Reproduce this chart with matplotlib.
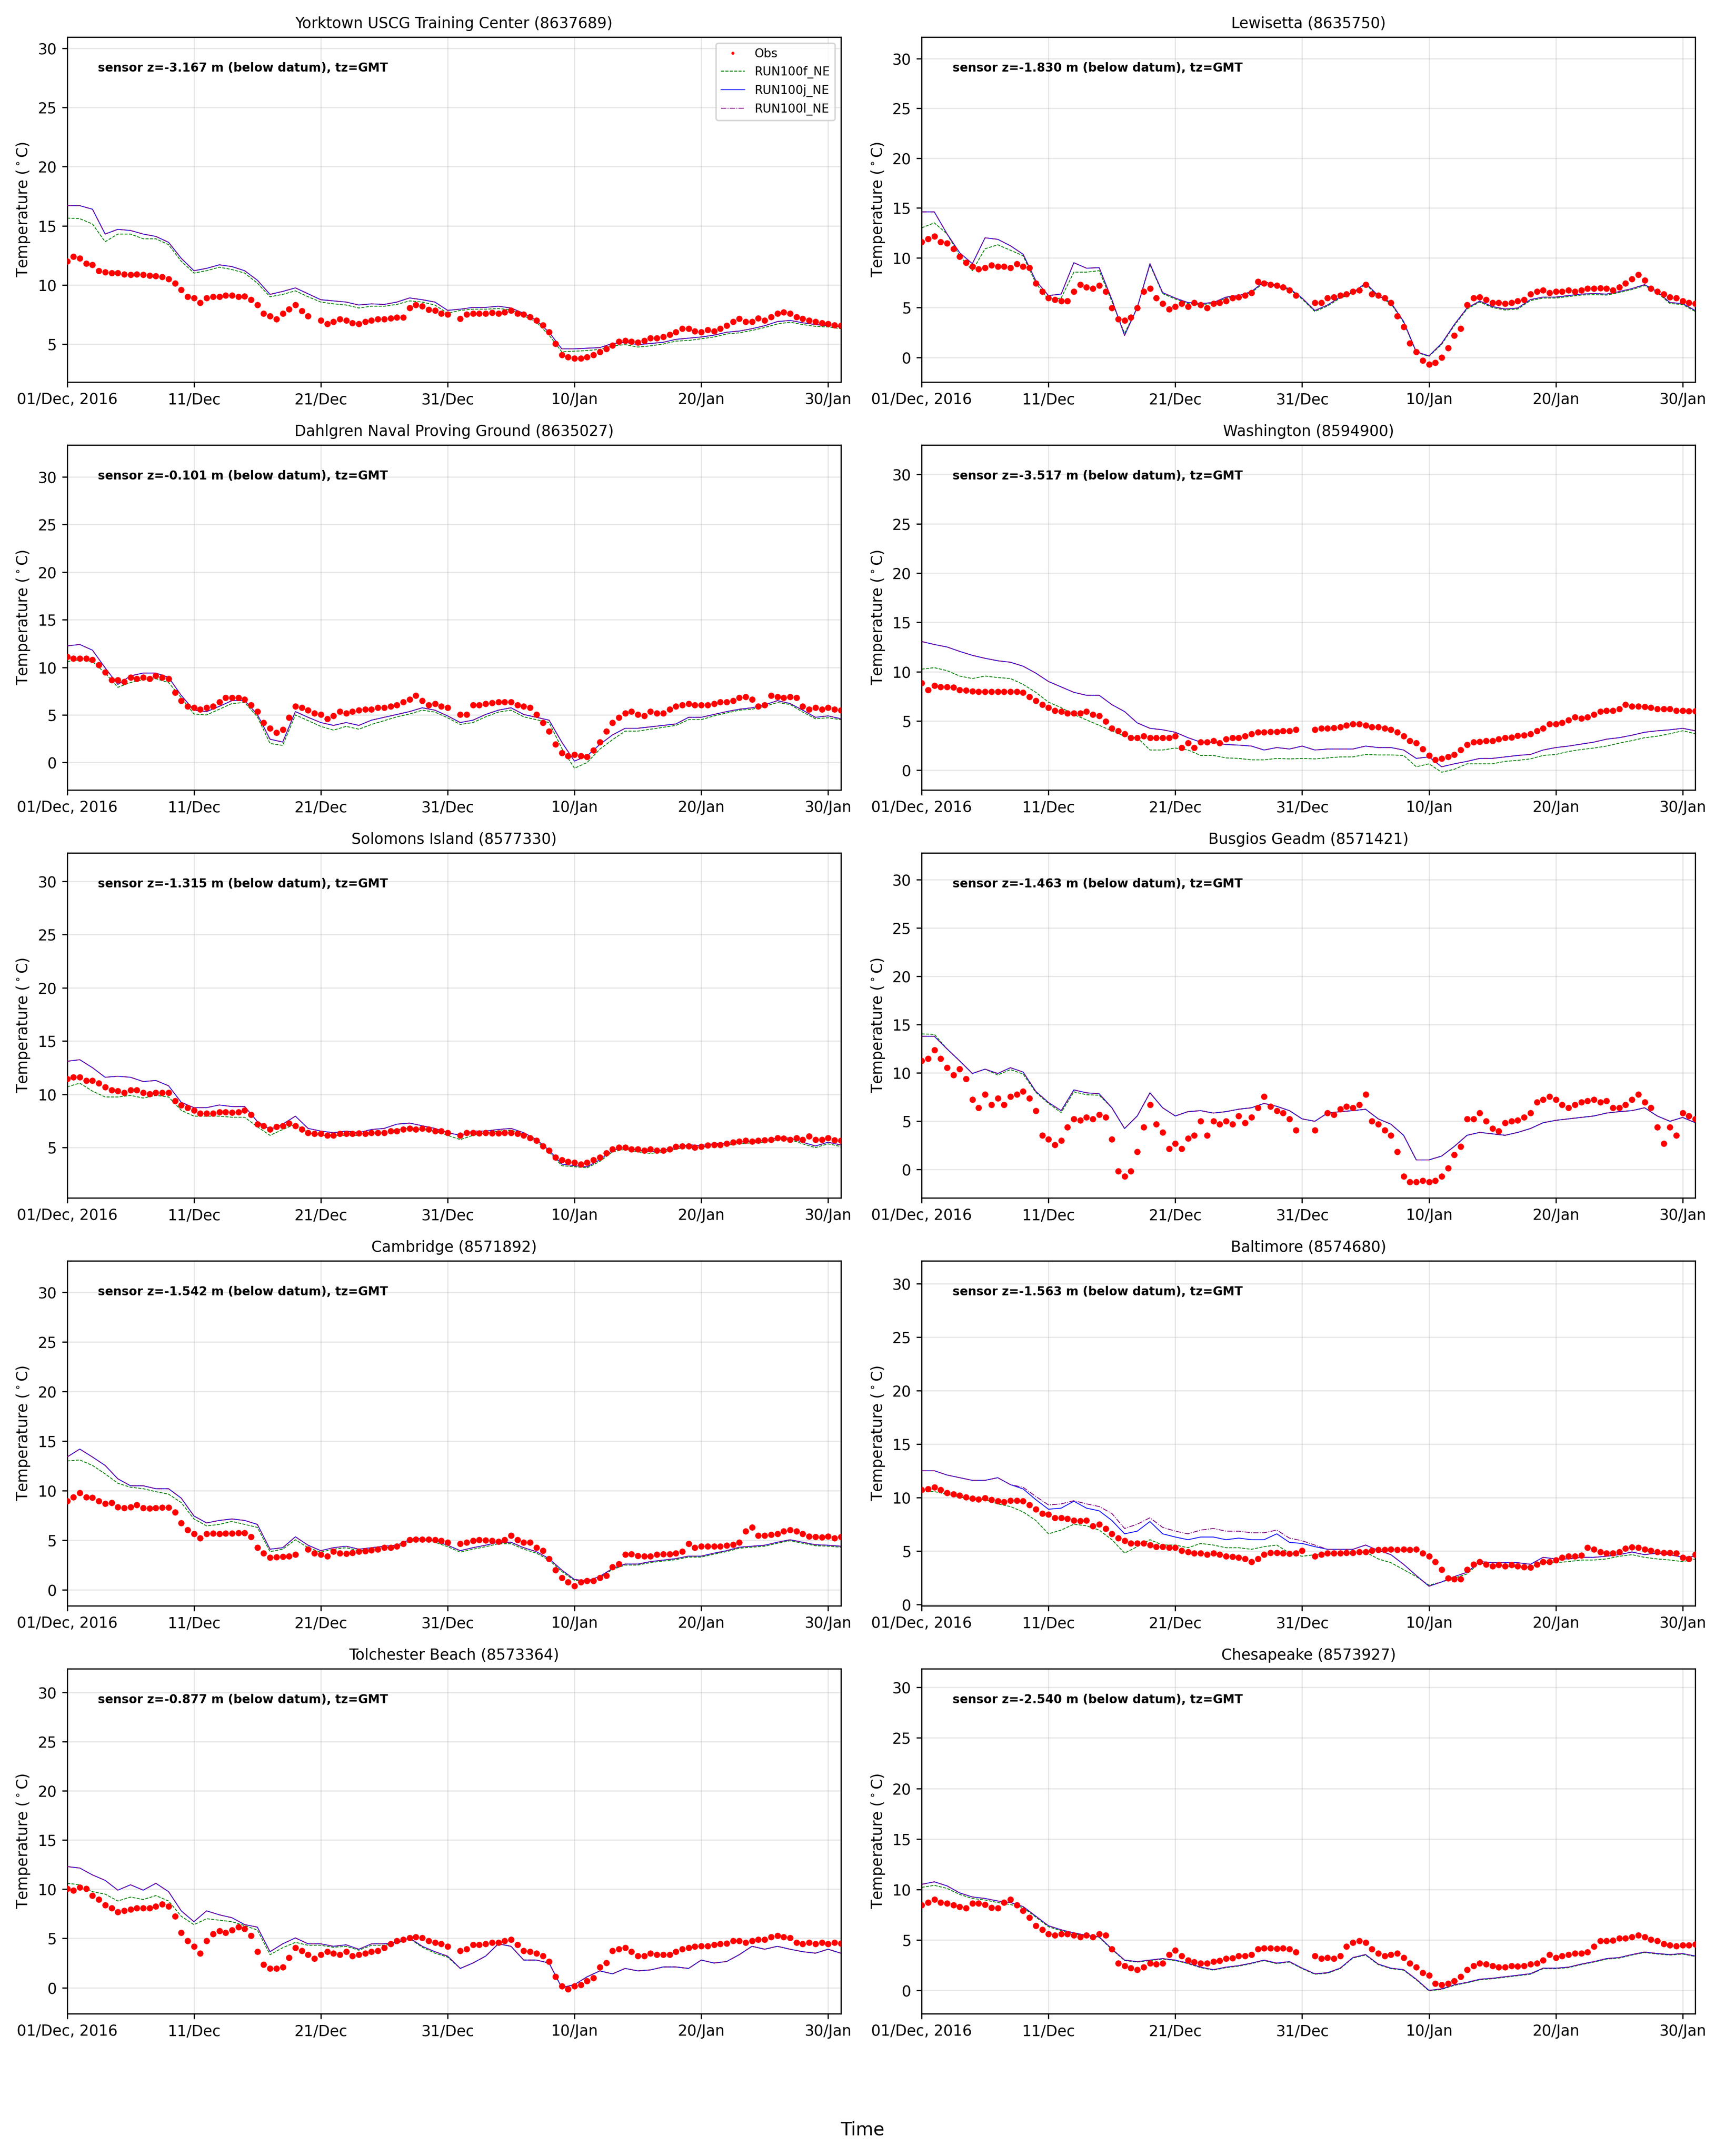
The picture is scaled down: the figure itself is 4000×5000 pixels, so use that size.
import numpy as np
import matplotlib
matplotlib.use("Agg")
import matplotlib.pyplot as plt
from datetime import datetime, timedelta

nan = np.nan

# ---------------- station metadata ----------------
titles = ["Yorktown USCG Training Center (8637689)", "Lewisetta (8635750)",
          "Dahlgren Naval Proving Ground (8635027)", "Washington (8594900)",
          "Solomons Island (8577330)", "Busgios Geadm (8571421)",
          "Cambridge (8571892)", "Baltimore (8574680)",
          "Tolchester Beach (8573364)", "Chesapeake (8573927)"]
sensor_z = ["-3.167", "-1.830", "-0.101", "-3.517", "-1.315",
            "-1.463", "-1.542", "-1.563", "-0.877", "-2.540"]
ylims = [(1.79, 30.95), (-2.48, 32.15), (-2.88, 33.35), (-2.0, 32.98), (0.28, 32.66),
         (-2.93, 32.79), (-1.61, 33.19), (-0.13, 32.13), (-2.65, 32.4), (-2.31, 31.85)]
tick_labels = ["01/Dec, 2016", "11/Dec", "21/Dec", "31/Dec", "10/Jan", "20/Jan", "30/Jan"]

# ---------------- observations (every 12 h from 01 Dec 2016 00:00) ----------------
obs_yorktown = [12.0, 12.4, 12.25, 11.8, 11.7, 11.2, 11.1, 11.0, 11.0, 10.9,
    10.85, 10.9, 10.85, 10.8, 10.75, 10.7, 10.5, 10.15, 9.6, 9.0,
    8.9, 8.5, 8.9, 9.0, 9.0, 9.1, 9.1, 9.0, 9.05, 8.75,
    8.3, 7.6, 7.35, 7.1, 7.6, 7.95, 8.3, 7.8, 7.35, nan,
    7.0, 6.7, 6.9, 7.1, 7.0, 6.8, 6.7, 6.9, 7.0, 7.1,
    7.1, 7.2, 7.25, 7.25, 8.05, 8.3, 8.2, 7.9, 7.85, 7.6,
    7.5, nan, 7.15, 7.5, 7.6, 7.6, 7.6, 7.65, 7.6, 7.7,
    7.85, 7.6, 7.5, 7.3, 7.0, 6.6, 6.0, 5.05, 4.1, 3.9,
    3.8, 3.8, 3.9, 4.1, 4.35, 4.6, 4.9, 5.2, 5.3, 5.2,
    5.15, 5.3, 5.5, 5.5, 5.6, 5.8, 6.0, 6.3, 6.3, 6.1,
    6.0, 6.2, 6.1, 6.3, 6.55, 6.9, 7.15, 6.9, 6.9, 7.2,
    7.0, 7.3, 7.6, 7.7, 7.6, 7.3, 7.15, 7.0, 6.9, 6.8,
    6.7, 6.6, 6.55]
obs_lewisetta = [11.6, 11.9, 12.15, 11.6, 11.45, 10.9, 10.1, 9.5, 9.1, 8.85,
    9.0, 9.25, 9.1, 9.1, 9.0, 9.4, 9.1, 9.0, 7.45, 6.6,
    5.95, 5.8, 5.65, 5.65, 6.6, 7.3, 7.05, 6.9, 7.2, 6.6,
    4.95, 3.85, 3.7, 4.0, 4.95, 6.6, 6.9, 5.95, 5.4, 4.85,
    5.1, 5.4, 5.1, 5.5, 5.25, 4.95, 5.4, 5.5, 5.65, 5.95,
    6.05, 6.2, 6.5, 7.6, 7.45, 7.3, 7.2, 7.05, 6.75, 6.2,
    nan, nan, 5.5, 5.5, 5.95, 6.05, 6.2, 6.35, 6.6, 6.75,
    7.3, 6.35, 6.2, 5.95, 5.5, 4.15, 3.05, 1.4, 0.55, -0.3,
    -0.7, -0.55, 0.0, 0.95, 2.2, 2.9, 5.25, 5.95, 6.05, 5.8,
    5.5, 5.5, 5.4, 5.5, 5.65, 5.8, 6.35, 6.6, 6.75, 6.5,
    6.6, 6.6, 6.75, 6.6, 6.75, 6.9, 6.9, 6.95, 6.9, 6.75,
    7.05, 7.45, 7.85, 8.3, 7.75, 6.9, 6.6, 6.35, 6.05, 5.95,
    5.65, 5.5, 5.4]
obs_dahlgren = [11.1, 10.95, 10.95, 10.95, 10.8, 10.25, 9.5, 8.65, 8.65, 8.5,
    8.95, 8.8, 8.95, 8.8, 9.1, 8.95, 8.8, 7.35, 6.5, 5.9,
    5.75, 5.6, 5.75, 5.9, 6.35, 6.8, 6.8, 6.8, 6.65, 6.05,
    5.35, 4.2, 3.6, 3.15, 3.45, 4.75, 5.9, 5.75, 5.5, 5.2,
    5.05, 4.6, 4.9, 5.35, 5.2, 5.35, 5.5, 5.6, 5.6, 5.75,
    5.75, 5.9, 6.05, 6.35, 6.65, 7.05, 6.5, 6.05, 6.2, 5.9,
    5.75, nan, 5.05, 5.05, 6.05, 6.05, 6.2, 6.25, 6.35, 6.35,
    6.35, 6.05, 5.9, 5.75, 5.05, 4.2, 3.3, 1.9, 1.0, 0.7,
    0.85, 0.7, 0.6, 1.3, 2.15, 3.3, 4.2, 4.75, 5.2, 5.35,
    5.05, 4.9, 5.35, 5.2, 5.2, 5.6, 5.9, 6.05, 6.2, 6.05,
    6.05, 6.05, 6.2, 6.35, 6.35, 6.5, 6.8, 6.9, 6.65, 5.9,
    6.05, 7.05, 6.9, 6.8, 6.9, 6.8, 5.9, 5.6, 5.75, 5.6,
    5.75, 5.6, 5.5]
obs_washington = [8.85, 8.15, 8.6, 8.45, 8.45, 8.4, 8.15, 8.1, 8.0, 7.95,
    7.95, 7.95, 7.95, 7.95, 7.95, 7.95, 7.9, 7.45, 7.05, 6.65,
    6.35, 6.05, 5.95, 5.8, 5.8, 5.8, 5.95, 5.65, 5.5, 4.95,
    4.25, 4.0, 3.7, 3.3, 3.3, 3.45, 3.3, 3.3, 3.3, 3.3,
    3.45, 2.3, 2.75, 2.3, 2.85, 2.85, 3.0, 2.75, 3.15, 3.3,
    3.3, 3.45, 3.7, 3.85, 3.85, 3.9, 3.9, 4.0, 4.0, 4.1,
    nan, nan, 4.1, 4.25, 4.25, 4.3, 4.4, 4.55, 4.7, 4.7,
    4.55, 4.4, 4.4, 4.25, 4.1, 3.85, 3.45, 3.0, 2.75, 2.15,
    1.5, 1.05, 1.2, 1.35, 1.6, 2.05, 2.6, 2.85, 2.9, 3.0,
    3.0, 3.15, 3.3, 3.35, 3.5, 3.55, 3.7, 4.0, 4.25, 4.7,
    4.7, 4.8, 5.1, 5.4, 5.25, 5.4, 5.65, 5.95, 6.05, 6.05,
    6.2, 6.65, 6.5, 6.5, 6.45, 6.35, 6.2, 6.2, 6.2, 6.05,
    6.05, 6.0, 6.0]
obs_solomons = [11.45, 11.6, 11.6, 11.3, 11.3, 11.05, 10.7, 10.4, 10.3, 10.15,
    10.4, 10.4, 10.15, 10.05, 10.15, 10.15, 10.15, 9.4, 9.0, 8.75,
    8.5, 8.2, 8.2, 8.2, 8.35, 8.35, 8.3, 8.35, 8.5, 8.1,
    7.2, 7.05, 6.7, 6.95, 7.05, 7.3, 7.05, 6.7, 6.4, 6.3,
    6.3, 6.15, 6.15, 6.3, 6.3, 6.3, 6.35, 6.3, 6.4, 6.4,
    6.4, 6.55, 6.55, 6.7, 6.8, 6.7, 6.8, 6.7, 6.55, 6.55,
    6.4, nan, 6.15, 6.4, 6.4, 6.35, 6.4, 6.35, 6.35, 6.4,
    6.4, 6.3, 6.15, 5.9, 5.65, 5.15, 4.75, 4.1, 3.85, 3.7,
    3.6, 3.45, 3.6, 3.85, 4.1, 4.5, 4.85, 5.0, 5.0, 4.85,
    4.85, 4.75, 4.85, 4.75, 4.75, 4.85, 5.1, 5.15, 5.15, 5.0,
    5.1, 5.2, 5.25, 5.25, 5.4, 5.5, 5.6, 5.65, 5.6, 5.65,
    5.7, 5.75, 5.9, 5.85, 5.75, 5.9, 5.75, 6.05, 5.75, 5.75,
    5.9, 5.7, 5.65]
obs_busgios = [11.25, 11.5, 12.4, 11.5, 10.55, 9.8, 10.4, 9.4, 7.25, 6.4,
    7.8, 6.7, 7.4, 6.7, 7.55, 7.8, 8.1, 7.4, 6.1, 3.55,
    3.15, 2.55, 3.0, 4.4, 5.25, 5.1, 5.4, 5.25, 5.7, 5.4,
    3.15, -0.15, -0.7, -0.15, 1.85, 4.4, 6.7, 4.7, 3.85, 2.15,
    2.7, 2.15, 3.25, 3.55, 5.0, 3.55, 5.0, 4.7, 5.0, 4.7,
    5.55, 4.85, 5.4, 6.4, 7.55, 6.55, 6.1, 5.85, 5.25, 4.1,
    nan, nan, 4.1, nan, 5.85, 5.7, 6.25, 6.55, 6.4, 6.7,
    7.8, 5.0, 4.7, 4.1, 3.55, 1.85, -0.7, -1.3, -1.3, -1.15,
    -1.3, -1.15, -0.7, 0.15, 1.55, 2.4, 5.25, 5.25, 5.85, 5.0,
    4.25, 4.0, 4.85, 5.0, 5.1, 5.4, 5.85, 7.0, 7.25, 7.55,
    7.25, 6.7, 6.4, 6.7, 7.0, 7.1, 7.25, 7.0, 7.1, 6.4,
    6.4, 6.7, 7.25, 7.8, 7.0, 6.4, 4.4, 2.7, 4.4, 3.55,
    5.85, 5.55, 5.25]
obs_cambridge = [8.95, 9.35, 9.8, 9.35, 9.3, 8.95, 8.7, 8.8, 8.35, 8.25,
    8.35, 8.55, 8.25, 8.2, 8.25, 8.3, 8.3, 7.85, 6.75, 6.05,
    5.65, 5.2, 5.65, 5.7, 5.65, 5.7, 5.7, 5.75, 5.75, 5.35,
    4.25, 3.7, 3.25, 3.3, 3.35, 3.4, 3.55, nan, 4.1, 3.7,
    3.55, 3.4, 3.85, 3.7, 3.65, 3.75, 3.85, 3.9, 4.0, 4.1,
    4.25, 4.25, 4.4, 4.65, 5.05, 5.1, 5.1, 5.1, 5.05, 4.95,
    4.8, nan, 4.65, 4.8, 4.95, 5.05, 5.0, 4.95, 4.85, 5.05,
    5.5, 5.05, 4.8, 4.8, 4.25, 3.95, 3.15, 2.0, 1.2, 0.8,
    0.4, 0.8, 0.9, 0.9, 1.2, 1.45, 2.3, 2.6, 3.55, 3.6,
    3.45, 3.4, 3.4, 3.55, 3.6, 3.6, 3.7, 3.85, 4.65, 4.25,
    4.4, 4.4, 4.4, 4.4, 4.5, 4.55, 4.8, 5.9, 6.3, 5.5,
    5.5, 5.55, 5.65, 5.9, 6.05, 5.9, 5.65, 5.4, 5.35, 5.3,
    5.4, 5.2, 5.35]
obs_baltimore = [10.7, 10.8, 10.95, 10.7, 10.45, 10.3, 10.2, 10.05, 9.9, 9.85,
    9.95, 9.8, 9.65, 9.6, 9.7, 9.7, 9.65, 9.3, 8.9, 8.5,
    8.4, 8.1, 8.1, 8.0, 7.85, 7.8, 7.85, 7.35, 7.5, 7.1,
    6.6, 6.2, 5.95, 5.7, 5.7, 5.7, 5.55, 5.4, 5.4, 5.3,
    5.3, 5.05, 4.9, 4.8, 4.8, 4.65, 4.8, 4.65, 4.5, 4.45,
    4.4, 4.25, 4.0, 4.25, 4.65, 4.85, 4.85, 4.8, 4.75, 4.8,
    5.05, nan, 4.5, 4.65, 4.8, 4.8, 4.8, 4.85, 4.85, 4.9,
    4.9, 5.05, 5.1, 5.1, 5.15, 5.1, 5.15, 5.1, 5.15, 4.8,
    4.5, 4.0, 3.25, 2.45, 2.35, 2.35, 3.25, 3.75, 4.0, 3.75,
    3.6, 3.7, 3.6, 3.7, 3.6, 3.5, 3.45, 3.75, 4.0, 4.0,
    4.15, 4.4, 4.5, 4.5, 4.6, 5.3, 5.15, 4.9, 4.8, 4.8,
    4.9, 5.25, 5.35, 5.3, 5.15, 5.05, 4.9, 4.85, 4.85, 4.8,
    4.4, 4.25, 4.65]
obs_tolchester = [10.05, 9.9, 10.2, 10.05, 9.35, 8.95, 8.4, 8.1, 7.7, 7.8,
    7.95, 8.1, 8.1, 8.1, 8.25, 8.5, 8.25, 7.25, 5.6, 4.75,
    4.2, 3.5, 4.75, 5.45, 5.75, 5.6, 5.85, 6.15, 6.0, 5.3,
    3.65, 2.35, 1.95, 1.95, 2.1, 3.05, 4.05, 3.75, 3.35, 2.95,
    3.35, 3.65, 3.5, 3.35, 3.65, 3.2, 3.35, 3.5, 3.65, 3.75,
    4.05, 4.45, 4.75, 4.9, 5.05, 5.15, 5.05, 4.75, 4.6, 4.45,
    4.2, nan, 3.75, 3.9, 4.35, 4.35, 4.45, 4.6, 4.6, 4.75,
    4.9, 4.35, 3.75, 3.65, 3.5, 3.2, 2.65, 1.1, 0.15, -0.15,
    0.15, 0.3, 0.7, 1.0, 2.1, 2.5, 3.75, 3.9, 4.05, 3.65,
    3.2, 3.2, 3.5, 3.35, 3.35, 3.35, 3.65, 3.9, 4.05, 4.2,
    4.25, 4.25, 4.35, 4.45, 4.5, 4.75, 4.75, 4.6, 4.75, 4.9,
    4.9, 5.15, 5.3, 5.15, 5.05, 4.6, 4.45, 4.6, 4.45, 4.6,
    4.45, 4.6, 4.5]
obs_chesapeake = [8.45, 8.7, 9.0, 8.7, 8.6, 8.45, 8.3, 8.15, 8.6, 8.6,
    8.5, 8.2, 8.15, 8.7, 9.0, 8.45, 7.9, 7.2, 6.4, 6.0,
    5.6, 5.45, 5.6, 5.6, 5.45, 5.3, 5.45, 5.3, 5.6, 5.45,
    4.1, 2.7, 2.45, 2.2, 2.05, 2.3, 2.7, 2.6, 2.7, 3.55,
    3.95, 3.4, 3.0, 2.8, 2.7, 2.7, 2.85, 2.95, 3.15, 3.2,
    3.4, 3.4, 3.55, 4.1, 4.2, 4.2, 4.15, 4.2, 4.1, 3.8,
    nan, nan, 3.4, 3.15, 3.25, 3.15, 3.4, 4.35, 4.75, 4.9,
    4.75, 4.1, 3.65, 3.4, 3.55, 3.65, 3.25, 2.7, 2.3, 1.75,
    1.5, 0.7, 0.55, 0.7, 0.95, 1.35, 2.05, 2.45, 2.7, 2.6,
    2.45, 2.3, 2.3, 2.45, 2.4, 2.45, 2.6, 2.7, 3.0, 3.55,
    3.25, 3.4, 3.55, 3.65, 3.65, 3.8, 4.35, 4.9, 4.9, 4.95,
    5.15, 5.15, 5.3, 5.45, 5.3, 5.05, 4.9, 4.6, 4.5, 4.4,
    4.5, 4.5, 4.55]

# ---------------- model runs (daily from 01 Dec 2016 00:00) ----------------
f_yorktown = [15.65, 15.6, 15.15, 13.65, 14.3, 14.3, 13.9, 13.9, 13.4, 12.0,
    11.0, 11.2, 11.5, 11.3, 11.0, 10.15, 9.0, 9.2, 9.5, 9.0,
    8.55, 8.4, 8.3, 8.05, 8.2, 8.2, 8.35, 8.65, 8.55, 8.3,
    7.6, 7.85, 7.95, 7.95, 8.0, 7.9, 7.4, 6.85, 5.75, 4.35,
    4.4, 4.45, 4.55, 4.85, 4.95, 4.75, 4.85, 5.0, 5.25, 5.3,
    5.45, 5.6, 5.85, 5.95, 6.15, 6.4, 6.7, 6.85, 6.65, 6.5, 6.45, 6.3]
j_yorktown = [16.7, 16.7, 16.4, 14.3, 14.7, 14.6, 14.3, 14.1, 13.6, 12.25,
    11.2, 11.4, 11.7, 11.55, 11.2, 10.4, 9.2, 9.45, 9.75, 9.25,
    8.75, 8.65, 8.55, 8.3, 8.4, 8.35, 8.55, 8.9, 8.75, 8.55,
    7.85, 7.95, 8.1, 8.1, 8.2, 8.05, 7.6, 7.0, 6.0, 4.6,
    4.6, 4.65, 4.7, 5.05, 5.15, 4.95, 5.05, 5.15, 5.4, 5.5,
    5.6, 5.75, 6.0, 6.1, 6.3, 6.55, 6.9, 7.0, 6.8, 6.65, 6.55, 6.45]
l_yorktown = j_yorktown

f_lewisetta = [13.0, 13.5, 12.4, 10.2, 8.7, 10.9, 11.3, 10.75, 10.2, 7.45,
    5.8, 5.95, 8.55, 8.55, 8.7, 5.6, 2.4, 5.0, 9.3, 6.4,
    5.85, 5.4, 5.3, 5.4, 5.95, 6.1, 6.5, 7.5, 7.1, 6.8,
    5.85, 4.6, 5.15, 5.95, 6.4, 7.35, 6.1, 5.4, 3.5, 0.5,
    0.1, 1.3, 3.2, 4.85, 5.55, 5.0, 4.75, 4.85, 5.7, 5.95,
    5.95, 6.1, 6.25, 6.3, 6.25, 6.5, 6.8, 7.2, 6.5, 5.4, 5.3, 4.6]
j_lewisetta = [14.6, 14.6, 12.4, 10.5, 9.4, 12.0, 11.85, 11.2, 10.35, 7.7,
    6.2, 6.35, 9.5, 8.95, 9.0, 5.8, 2.2, 5.0, 9.4, 6.5,
    5.95, 5.5, 5.4, 5.5, 6.05, 6.2, 6.6, 7.6, 7.2, 6.9,
    5.95, 4.7, 5.25, 6.05, 6.5, 7.45, 6.2, 5.5, 3.6, 0.55,
    0.15, 1.4, 3.3, 4.95, 5.65, 5.1, 4.85, 4.95, 5.8, 6.05,
    6.05, 6.2, 6.35, 6.4, 6.35, 6.6, 6.9, 7.3, 6.6, 5.5, 5.4, 4.7]
l_lewisetta = j_lewisetta

f_dahlgren = [10.6, 10.8, 10.6, 9.4, 7.9, 8.4, 8.7, 8.8, 8.4, 6.8,
    5.1, 5.0, 5.6, 6.2, 6.3, 4.8, 2.0, 1.8, 5.0, 4.4,
    3.8, 3.4, 3.8, 3.5, 4.0, 4.4, 4.8, 5.1, 5.5, 5.3,
    4.7, 4.0, 4.2, 4.8, 5.3, 5.5, 4.8, 4.5, 4.2, 1.5,
    -0.6, 0.0, 1.4, 2.4, 3.3, 3.3, 3.5, 3.7, 3.9, 4.5,
    4.5, 4.9, 5.2, 5.5, 5.6, 5.9, 6.3, 6.1, 5.3, 4.6, 4.7, 4.5]
j_dahlgren = [12.25, 12.4, 11.8, 9.95, 8.2, 9.1, 9.4, 9.4, 8.95, 7.05,
    5.5, 5.35, 5.9, 6.5, 6.5, 5.05, 2.45, 2.15, 5.35, 4.75,
    4.2, 3.9, 4.2, 3.9, 4.45, 4.75, 5.05, 5.35, 5.75, 5.5,
    4.9, 4.2, 4.45, 5.05, 5.5, 5.75, 5.05, 4.75, 4.45, 2.15,
    0.15, 0.7, 1.9, 2.9, 3.6, 3.6, 3.75, 3.9, 4.05, 4.75,
    4.75, 5.05, 5.35, 5.6, 5.75, 6.05, 6.5, 6.2, 5.5, 4.75, 4.9, 4.6]
l_dahlgren = j_dahlgren

f_washington = [10.25, 10.4, 10.1, 9.55, 9.3, 9.55, 9.4, 9.3, 8.7, 7.9,
    6.9, 6.35, 5.65, 5.1, 4.55, 4.0, 3.45, 3.3, 2.05, 2.05,
    2.25, 2.05, 1.5, 1.5, 1.25, 1.2, 1.05, 1.05, 1.2, 1.15,
    1.2, 1.15, 1.25, 1.35, 1.35, 1.6, 1.55, 1.55, 1.5, 0.35,
    0.65, -0.2, 0.1, 0.65, 0.65, 0.65, 0.9, 1.0, 1.15, 1.5,
    1.6, 1.9, 2.1, 2.25, 2.45, 2.75, 3.0, 3.3, 3.45, 3.7, 4.0, 3.7]
j_washington = [13.05, 12.75, 12.5, 12.05, 11.65, 11.35, 11.1, 10.95, 10.55, 9.85,
    9.0, 8.45, 7.9, 7.6, 7.6, 6.65, 5.95, 4.8, 4.25, 4.1,
    3.85, 3.3, 2.85, 2.85, 2.6, 2.55, 2.45, 2.05, 2.3, 2.15,
    2.45, 2.05, 2.15, 2.15, 2.15, 2.45, 2.3, 2.3, 2.05, 1.2,
    1.35, 0.35, 0.65, 0.9, 1.2, 1.2, 1.35, 1.5, 1.6, 2.05,
    2.3, 2.45, 2.65, 2.85, 3.15, 3.3, 3.55, 3.85, 4.0, 4.1, 4.25, 4.0]
l_washington = j_washington

f_solomons = [10.7, 11.05, 10.3, 9.75, 9.75, 9.9, 9.65, 9.9, 9.75, 8.5,
    7.95, 7.95, 7.95, 7.85, 7.85, 6.95, 6.15, 6.7, 7.2, 6.4,
    6.15, 6.15, 6.15, 6.15, 6.3, 6.4, 6.7, 6.8, 6.7, 6.55,
    6.15, 5.75, 6.15, 6.4, 6.55, 6.65, 6.25, 5.6, 4.6, 3.3,
    3.2, 3.1, 3.7, 4.6, 4.85, 4.6, 4.45, 4.6, 4.85, 5.1,
    5.05, 5.2, 5.25, 5.35, 5.45, 5.5, 5.75, 5.75, 5.35, 5.0, 5.35, 5.1]
j_solomons = [13.1, 13.25, 12.5, 11.6, 11.7, 11.6, 11.2, 11.3, 10.8, 9.25,
    8.75, 8.75, 9.0, 8.85, 8.85, 7.45, 6.7, 7.2, 7.95, 6.8,
    6.55, 6.4, 6.55, 6.4, 6.7, 6.8, 7.2, 7.3, 7.05, 6.8,
    6.4, 6.15, 6.55, 6.55, 6.7, 6.8, 6.4, 5.75, 4.75, 3.45,
    3.3, 3.2, 3.85, 4.75, 5.0, 4.75, 4.6, 4.75, 5.0, 5.25,
    5.2, 5.35, 5.4, 5.5, 5.6, 5.65, 5.9, 5.9, 5.5, 5.15, 5.5, 5.25]
l_solomons = j_solomons

f_busgios = [14.05, 14.0, 12.5, 11.25, 9.95, 10.4, 9.8, 10.35, 9.9, 8.0,
    6.85, 5.9, 8.05, 7.75, 7.7, 6.4, 4.25, 5.55, 7.95, 6.4,
    5.55, 6.0, 6.1, 5.85, 6.0, 6.25, 6.4, 6.85, 6.55, 6.1,
    5.25, 5.0, 5.85, 6.0, 6.1, 6.25, 5.25, 4.7, 3.55, 1.0,
    1.0, 1.4, 2.4, 3.55, 3.85, 3.7, 3.55, 3.85, 4.25, 4.85,
    5.1, 5.25, 5.4, 5.55, 5.85, 6.0, 6.1, 6.4, 5.55, 5.0, 5.4, 4.85]
j_busgios = [13.8, 13.8, 12.5, 11.25, 9.95, 10.4, 9.95, 10.55, 10.1, 8.1,
    6.95, 6.1, 8.25, 7.95, 7.85, 6.4, 4.25, 5.55, 7.95, 6.4,
    5.55, 6.0, 6.1, 5.85, 6.0, 6.25, 6.4, 6.85, 6.55, 6.1,
    5.25, 5.0, 5.85, 6.0, 6.1, 6.25, 5.25, 4.7, 3.55, 1.0,
    1.0, 1.4, 2.4, 3.55, 3.85, 3.7, 3.55, 3.85, 4.25, 4.85,
    5.1, 5.25, 5.4, 5.55, 5.85, 6.0, 6.1, 6.4, 5.55, 5.0, 5.4, 4.85]
l_busgios = j_busgios

f_cambridge = [13.0, 13.1, 12.55, 11.7, 10.75, 10.35, 10.2, 9.9, 9.65, 8.8,
    7.15, 6.45, 6.6, 6.9, 6.6, 6.3, 3.85, 4.1, 5.05, 4.25,
    3.8, 4.1, 4.25, 3.95, 4.1, 4.25, 4.35, 4.9, 5.05, 4.8,
    4.35, 3.8, 4.1, 4.35, 4.65, 4.65, 4.1, 3.7, 3.0, 1.85,
    0.95, 0.8, 1.25, 2.05, 2.5, 2.5, 2.75, 2.9, 3.05, 3.3,
    3.3, 3.6, 3.85, 4.2, 4.3, 4.4, 4.7, 4.95, 4.7, 4.45, 4.4, 4.3]
j_cambridge = [13.4, 14.2, 13.4, 12.55, 11.2, 10.5, 10.5, 10.2, 10.2, 9.25,
    7.45, 6.75, 7.0, 7.15, 7.0, 6.6, 4.1, 4.25, 5.35, 4.5,
    3.95, 4.25, 4.4, 4.1, 4.25, 4.4, 4.5, 5.05, 5.2, 4.95,
    4.5, 3.95, 4.25, 4.5, 4.8, 4.8, 4.25, 3.85, 3.15, 2.0,
    1.05, 0.9, 1.35, 2.15, 2.6, 2.6, 2.85, 3.0, 3.15, 3.4,
    3.4, 3.7, 3.95, 4.3, 4.4, 4.5, 4.8, 5.05, 4.8, 4.55, 4.5, 4.4]
l_cambridge = j_cambridge

f_baltimore = [10.55, 10.55, 10.3, 10.05, 9.8, 9.8, 9.4, 9.15, 8.65, 7.85,
    6.6, 6.95, 7.5, 7.35, 6.95, 6.05, 4.8, 5.4, 6.05, 5.55,
    5.55, 5.3, 5.7, 5.55, 5.3, 5.3, 5.15, 5.4, 5.55, 4.8,
    4.5, 4.65, 4.8, 4.8, 4.8, 4.9, 4.25, 3.9, 3.25, 2.6,
    1.8, 2.1, 2.45, 2.85, 3.9, 3.6, 3.6, 3.5, 3.5, 3.9,
    3.9, 4.0, 4.15, 4.15, 4.25, 4.5, 4.65, 4.4, 4.25, 4.15, 4.0, 4.25]
j_baltimore = [12.5, 12.5, 12.1, 11.85, 11.6, 11.6, 11.85, 11.2, 10.8, 9.8,
    8.9, 9.0, 9.65, 9.0, 8.75, 7.85, 6.6, 6.85, 7.75, 6.6,
    6.3, 6.05, 6.3, 6.3, 6.05, 6.2, 6.05, 6.05, 6.6, 5.8,
    5.7, 5.4, 5.15, 5.15, 5.15, 5.55, 5.05, 4.65, 3.75, 2.7,
    1.7, 2.1, 2.6, 3.0, 4.0, 3.9, 3.9, 3.9, 3.75, 4.4,
    4.25, 4.25, 4.4, 4.4, 4.5, 4.65, 4.9, 4.65, 4.8, 4.65, 4.4, 4.5]
l_baltimore = [12.5, 12.5, 12.1, 11.85, 11.6, 11.6, 11.85, 11.2, 10.95, 10.1,
    9.3, 9.4, 9.7, 9.4, 9.15, 8.5, 7.1, 7.5, 8.1, 7.2,
    6.85, 6.6, 6.95, 7.1, 6.85, 6.85, 6.7, 6.7, 6.95, 6.2,
    5.95, 5.55, 5.15, 5.15, 5.15, 5.55, 5.05, 4.65, 3.75, 2.7,
    1.7, 2.1, 2.6, 3.0, 4.0, 3.9, 3.9, 3.9, 3.75, 4.4,
    4.25, 4.25, 4.4, 4.4, 4.5, 4.65, 4.9, 4.65, 4.8, 4.65, 4.4, 4.5]

f_tolchester = [10.6, 10.45, 9.75, 9.5, 8.8, 9.2, 8.95, 9.35, 8.8, 7.25,
    6.4, 7.0, 6.85, 6.7, 6.3, 5.85, 3.35, 4.05, 4.6, 4.3,
    4.3, 4.1, 4.2, 3.8, 4.3, 4.3, 4.5, 5.0, 4.1, 3.5,
    3.1, 1.95, 2.5, 3.2, 4.45, 4.2, 2.8, 2.8, 2.5, 0.0,
    0.3, 1.1, 1.7, 1.4, 1.95, 1.7, 1.8, 2.1, 2.1, 1.95,
    2.8, 2.5, 2.65, 3.35, 4.2, 3.9, 4.2, 3.9, 3.65, 3.5, 3.9, 3.5]
j_tolchester = [12.3, 12.15, 11.45, 10.9, 9.9, 10.45, 9.9, 10.6, 9.75, 7.8,
    6.7, 7.8, 7.4, 7.1, 6.4, 6.15, 3.65, 4.45, 5.05, 4.45,
    4.45, 4.2, 4.35, 3.9, 4.45, 4.45, 4.6, 5.05, 4.2, 3.65,
    3.2, 1.95, 2.5, 3.2, 4.45, 4.2, 2.8, 2.8, 2.5, 0.0,
    0.3, 1.1, 1.7, 1.4, 1.95, 1.7, 1.8, 2.1, 2.1, 1.95,
    2.8, 2.5, 2.65, 3.35, 4.2, 3.9, 4.2, 3.9, 3.65, 3.5, 3.9, 3.5]
l_tolchester = j_tolchester

f_chesapeake = [10.2, 10.4, 10.1, 9.5, 9.1, 8.95, 8.7, 8.5, 8.2, 7.25,
    6.3, 5.9, 5.6, 5.4, 5.25, 4.05, 2.95, 2.8, 2.95, 3.1,
    2.95, 2.65, 2.25, 2.0, 2.25, 2.4, 2.65, 2.95, 2.65, 2.8,
    2.15, 1.6, 1.7, 2.15, 3.2, 3.5, 2.55, 2.15, 2.0, 1.05,
    -0.05, 0.1, 0.5, 0.75, 1.05, 1.15, 1.3, 1.45, 1.6, 2.15,
    2.15, 2.25, 2.55, 2.8, 3.1, 3.2, 3.5, 3.75, 3.6, 3.5, 3.6, 3.35]
j_chesapeake = [10.5, 10.75, 10.35, 9.65, 9.25, 9.1, 8.85, 8.7, 8.3, 7.35,
    6.4, 6.0, 5.7, 5.45, 5.3, 4.1, 3.0, 2.85, 3.0, 3.15,
    3.0, 2.7, 2.3, 2.05, 2.3, 2.45, 2.7, 3.0, 2.7, 2.85,
    2.2, 1.65, 1.75, 2.2, 3.25, 3.55, 2.6, 2.2, 2.05, 1.1,
    0.0, 0.15, 0.55, 0.8, 1.1, 1.2, 1.35, 1.5, 1.65, 2.2,
    2.2, 2.3, 2.6, 2.85, 3.15, 3.25, 3.55, 3.8, 3.65, 3.55, 3.65, 3.4]
l_chesapeake = j_chesapeake

obs_all = [obs_yorktown, obs_lewisetta, obs_dahlgren, obs_washington, obs_solomons,
           obs_busgios, obs_cambridge, obs_baltimore, obs_tolchester, obs_chesapeake]
f_all = [f_yorktown, f_lewisetta, f_dahlgren, f_washington, f_solomons,
         f_busgios, f_cambridge, f_baltimore, f_tolchester, f_chesapeake]
j_all = [j_yorktown, j_lewisetta, j_dahlgren, j_washington, j_solomons,
         j_busgios, j_cambridge, j_baltimore, j_tolchester, j_chesapeake]
l_all = [l_yorktown, l_lewisetta, l_dahlgren, l_washington, l_solomons,
         l_busgios, l_cambridge, l_baltimore, l_tolchester, l_chesapeake]

start = datetime(2016, 12, 1)
end = datetime(2017, 1, 31)

fig, axes = plt.subplots(5, 2, figsize=(16, 20), dpi=250)
fig.subplots_adjust(left=0.0389, right=0.9828, top=0.9828, bottom=0.066,
                    wspace=0.1045, hspace=0.1825)

ticks = [start + timedelta(days=10 * k) for k in range(len(tick_labels))]

for i, ax in enumerate(axes.flat):
    obs = obs_all[i]
    t_obs = [start + timedelta(hours=12 * k) for k in range(len(obs))]
    t_mod = [start + timedelta(days=k) for k in range(len(j_all[i]))]
    ax.plot(t_obs, obs, linestyle="none", marker="o", ms=4.2, mew=0,
            color="red", label="Obs", zorder=4)
    ax.plot(t_mod, f_all[i], "--", color="green", lw=0.55, label="RUN100f_NE", zorder=2)
    ax.plot(t_mod, j_all[i], "-", color="blue", lw=0.55, label="RUN100j_NE", zorder=2)
    ax.plot(t_mod, l_all[i], "-.", color="purple", lw=0.55, label="RUN100l_NE", zorder=3)
    ax.set_xlim(start, end)
    ax.set_ylim(*ylims[i])
    ax.set_xticks(ticks)
    ax.set_xticklabels(tick_labels)
    ax.tick_params(labelsize=10)
    ax.grid(True, alpha=0.3)
    ax.set_title(titles[i], fontsize=10)
    ax.set_ylabel("Temperature ($^\\circ$C)", fontsize=10)
    ax.text(0.04, 0.9, f"sensor z={sensor_z[i]} m (below datum), tz=GMT",
            transform=ax.transAxes, fontsize=8, fontweight="bold")
    if i == 0:
        ax.legend(loc="upper right", fontsize=8, markerscale=0.48)

fig.supxlabel("Time", fontsize=12, y=0.008)
fig.savefig("out.png", dpi=250)
